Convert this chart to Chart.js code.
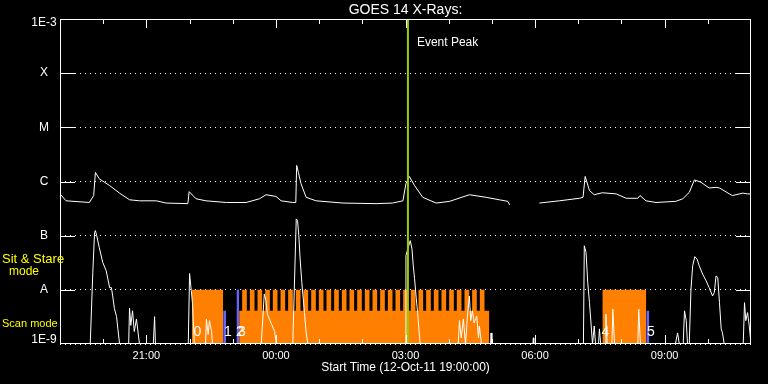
<!DOCTYPE html>
<html><head><meta charset="utf-8">
<script src="https://cdn.jsdelivr.net/npm/chart.js"></script>
<style>html,body{margin:0;padding:0;background:#000;}canvas{display:block;}</style>
</head><body>
<canvas id="c" width="768" height="384"></canvas>
<script>
// ---------- data (x in hours after 12-Oct-11 19:00) ----------
const chartTitle = 'GOES 14 X-Rays:';
const xAxisTitle = 'Start Time (12-Oct-11 19:00:00)';
const xMin = 0, xMax = 16;
const xTickHours = [2, 5, 8, 11, 14];
const xTickLabels = ['21:00', '00:00', '03:00', '06:00', '09:00'];
const xMinorTickHours = [1, 3, 4, 6, 7, 9, 10, 12, 13, 15];
const yTickValues = [1e-9, 1e-8, 1e-7, 1e-6, 1e-5, 1e-4, 1e-3];
const yTickLabels = ['1E-9', 'A', 'B', 'C', 'M', 'X', '1E-3'];

// GOES long channel (1-8 A)
const longTimes = [0.00,0.14,0.68,0.78,0.82,0.91,1.15,1.38,1.61,1.84,2.23,2.46,2.96,2.99,3.15,3.38,3.85,4.31,4.62,4.77,5.00,5.12,5.39,5.46,5.48,5.52,5.58,5.70,5.93,6.55,7.32,7.70,7.94,8.01,8.09,8.21,8.40,8.71,9.02,9.48,9.87,10.17,10.37,10.41,10.42,11.10,11.56,12.03,12.11,12.16,12.26,12.37,12.56,12.88,13.11,13.38,13.43,13.57,13.80,14.26,14.42,14.57,14.69,14.84,15.03,15.19,15.27,15.50,15.57,15.81,15.92,16.00];
const longFlux = [5.9e-7,4.4e-7,4.1e-7,5.5e-7,1.47e-6,1.12e-6,8.4e-7,6.1e-7,4.6e-7,4.4e-7,4.4e-7,4.0e-7,3.9e-7,6.5e-7,4.8e-7,4.4e-7,4.1e-7,4.1e-7,4.8e-7,5.7e-7,5.3e-7,4.4e-7,4.1e-7,4.1e-7,1.98e-6,1.47e-6,9.1e-7,5.1e-7,4.4e-7,4.0e-7,3.9e-7,4.0e-7,4.4e-7,9.1e-7,1.24e-6,8.4e-7,5.1e-7,4.0e-7,4.3e-7,5.7e-7,5.1e-7,4.6e-7,4.3e-7,3.7e-7,null,4.0e-7,4.4e-7,4.9e-7,5.1e-7,1.24e-6,6.8e-7,5.7e-7,6.2e-7,5.9e-7,4.9e-7,4.9e-7,5.5e-7,4.4e-7,4.1e-7,4.3e-7,4.8e-7,6.3e-7,1.07e-6,9.7e-7,7.6e-7,7.8e-7,7.6e-7,5.9e-7,5.5e-7,6.1e-7,5.9e-7,5.9e-7];

// GOES short channel (0.5-4 A)
const shortTimes = [0.00,0.70,0.76,0.80,0.82,0.85,0.91,0.99,1.07,1.15,1.19,1.22,1.26,1.31,1.34,1.38,1.59,1.61,1.64,1.68,1.72,1.77,1.84,2.16,2.19,2.21,2.97,3.00,3.04,3.07,3.11,3.37,3.39,3.43,3.46,3.51,3.53,4.66,4.73,4.77,4.80,4.90,4.97,5.01,5.39,5.47,5.50,5.53,5.56,5.60,5.66,5.70,5.74,7.99,8.01,8.11,8.15,8.18,8.21,8.25,8.28,8.31,8.34,9.22,9.25,9.29,9.34,9.39,9.44,9.48,9.51,9.55,9.59,9.65,9.69,9.71,9.76,9.97,9.98,10.00,10.95,10.96,10.97,12.12,12.14,12.18,12.22,12.26,12.30,12.33,12.37,12.40,12.47,12.49,12.52,12.62,12.64,12.67,12.78,12.80,12.84,13.38,13.40,13.44,14.25,14.30,14.34,14.43,14.46,14.50,14.53,14.57,14.61,14.65,14.70,14.75,14.80,14.88,14.96,15.03,15.11,15.15,15.19,15.23,15.27,15.31,15.34,15.38,15.82,15.85,15.88,15.92,15.96,16.00];
const shortFlux = [1e-9,1e-9,2.1e-8,1.15e-7,1.24e-7,1.0e-7,6.0e-8,3.2e-8,2.25e-8,1.09e-8,1.1e-8,7.7e-9,4.5e-9,3.2e-9,1.9e-9,1e-9,1e-9,4.6e-9,2.2e-9,4.1e-9,1.7e-9,2.9e-9,1e-9,1e-9,3.2e-9,1e-9,1e-9,2.0e-8,9.6e-9,5.5e-9,1e-9,1e-9,2.9e-9,1.5e-9,2.7e-9,1.7e-9,1e-9,1e-9,8.4e-9,6.3e-9,3.6e-9,2.3e-9,1.7e-9,1e-9,1e-9,2.04e-7,1.9e-7,1.0e-7,3.7e-8,1.36e-8,3.8e-9,1.6e-9,1e-9,1e-9,4.3e-8,8.1e-8,5.7e-8,2.8e-8,1.6e-8,6.8e-9,3.8e-9,1.9e-9,1e-9,1e-9,2.7e-9,1.3e-9,2.9e-9,1e-9,3.8e-9,7.7e-9,2.7e-9,4.1e-9,2.45e-9,3.3e-9,1.3e-9,2.15e-9,1e-9,1e-9,1.6e-9,1e-9,1e-9,1.3e-9,1e-9,1e-9,6.5e-8,4.9e-8,1.36e-8,5.8e-9,2.15e-9,1e-9,2.15e-9,1e-9,1e-9,1.9e-9,1e-9,1e-9,3.55e-9,1e-9,1e-9,4.4e-9,1e-9,1e-9,4.4e-9,1e-9,1e-9,1.6e-9,1e-9,1e-9,4.1e-9,2.7e-9,1e-9,1e-9,1.03e-8,2.8e-8,4.1e-8,3.7e-8,2.8e-8,1.95e-8,1.47e-8,1.1e-8,7.7e-9,8.9e-9,1.8e-8,1.7e-8,5.8e-9,1.9e-9,1.6e-9,1e-9,1e-9,5.8e-9,2.7e-9,3.8e-9,2.15e-9,1e-9];

// Observing mode blocks (level 1E-8 = sit & stare, 4.1E-9 = scan); each level holds until the next time
const orangeTimes = [3.051,3.778,3.779,4.148,4.218,4.326,4.396,4.504,4.573,4.681,4.751,4.859,4.928,5.036,5.106,5.214,5.283,5.391,5.461,5.569,5.638,5.746,5.816,5.924,5.993,6.101,6.171,6.279,6.348,6.456,6.526,6.634,6.703,6.811,6.881,6.989,7.058,7.166,7.236,7.344,7.413,7.521,7.591,7.699,7.768,7.876,7.946,8.054,8.123,8.231,8.301,8.409,8.478,8.586,8.656,8.764,8.833,8.941,9.011,9.119,9.188,9.296,9.366,9.474,9.543,9.651,9.721,9.829,9.942,9.943,12.558,13.576];
const orangeLevels = [1e-8,1e-8,null,4.1e-9,1e-8,4.1e-9,1e-8,4.1e-9,1e-8,4.1e-9,1e-8,4.1e-9,1e-8,4.1e-9,1e-8,4.1e-9,1e-8,4.1e-9,1e-8,4.1e-9,1e-8,4.1e-9,1e-8,4.1e-9,1e-8,4.1e-9,1e-8,4.1e-9,1e-8,4.1e-9,1e-8,4.1e-9,1e-8,4.1e-9,1e-8,4.1e-9,1e-8,4.1e-9,1e-8,4.1e-9,1e-8,4.1e-9,1e-8,4.1e-9,1e-8,4.1e-9,1e-8,4.1e-9,1e-8,4.1e-9,1e-8,4.1e-9,1e-8,4.1e-9,1e-8,4.1e-9,1e-8,4.1e-9,1e-8,4.1e-9,1e-8,4.1e-9,1e-8,4.1e-9,1e-8,4.1e-9,1e-8,4.1e-9,4.1e-9,null,1e-8,1e-8];
const blueTimes = [3.778,3.847,3.848,4.086,4.148,4.149,13.576,13.646];
const blueLevels = [4.1e-9,4.1e-9,null,1e-8,1e-8,null,4.1e-9,4.1e-9];

const modeLabelTexts = ['0', '1', '2', '3', '4', '5'];
const modeLabelHours = [3.183, 3.889, 4.167, 4.213, 12.627, 13.68];
const modeLabelLevel = 1.63e-9;

const eventPeakHour = 8.056;
const eventLabel = 'Event Peak';
const eventLabelLevel = 3.6e-4;
const sitStareLabelLevel = 3.6e-8;
const sitStareModeLevel = 2.15e-8;
const scanLabelLevel = 2.35e-9;

// ---------- chart ----------
const pts = (t, v) => t.map((x, i) => ({x, y: v[i]}));
Chart.defaults.font.family = 'Liberation Sans';
const endLabels = {0: 1, 6: 1};

const overlay = {
  id: 'overlay',
  afterDraw(chart) {
    const {ctx, chartArea: a, scales: {x, y}} = chart;
    const line = (x1, y1, x2, y2) => { ctx.beginPath(); ctx.moveTo(x1, y1); ctx.lineTo(x2, y2); ctx.stroke(); };
    const txt = (s, px, py, color, font, align) => {
      ctx.fillStyle = color; ctx.font = font; ctx.textAlign = align; ctx.textBaseline = 'middle'; ctx.fillText(s, px, py);
    };
    ctx.save();
    ctx.strokeStyle = '#fff'; ctx.lineWidth = 1; ctx.setLineDash([]);
    ctx.strokeRect(a.left + 0.5, a.top + 0.5, a.right - a.left - 1, a.bottom - a.top - 1);
    yTickValues.slice(1, -1).forEach(v => {
      const py = Math.round(y.getPixelForValue(v)) + 0.5;
      line(a.left, py, a.left + 15, py);
      line(a.right - 15, py, a.right, py);
    });
    xTickHours.forEach(h => {
      const px = Math.round(x.getPixelForValue(h)) + 0.5;
      line(px, a.top, px, a.top + 9); line(px, a.bottom, px, a.bottom - 9);
    });
    xMinorTickHours.forEach(h => {
      const px = Math.round(x.getPixelForValue(h)) + 0.5;
      line(px, a.top, px, a.top + 5); line(px, a.bottom, px, a.bottom - 5);
    });
    txt(yTickLabels[6], a.left - 16, y.getPixelForValue(yTickValues[6]) + 4, '#fff', '12px "Liberation Sans"', 'center');
    txt(yTickLabels[0], a.left - 16, y.getPixelForValue(yTickValues[0]) - 4, '#fff', '12px "Liberation Sans"', 'center');
    txt(chartTitle, (a.left + a.right) / 2, 10, '#fff', '14px "Liberation Sans"', 'center');
    txt(eventLabel, x.getPixelForValue(eventPeakHour) + 9, y.getPixelForValue(eventLabelLevel), '#fff', '12px "Liberation Sans"', 'left');
    modeLabelTexts.forEach((s, i) => {
      txt(s, x.getPixelForValue(modeLabelHours[i]), y.getPixelForValue(modeLabelLevel), '#fff', '14px "Liberation Sans"', 'center');
    });
    txt('Sit & Stare', 2, y.getPixelForValue(sitStareLabelLevel), '#ffff00', '13px "Liberation Sans"', 'left');
    txt('mode', 24, y.getPixelForValue(sitStareModeLevel), '#ffff00', '12px "Liberation Sans"', 'center');
    txt('Scan mode', 2, y.getPixelForValue(scanLabelLevel), '#ffff00', '11px "Liberation Sans"', 'left');
    ctx.restore();
  }
};

new Chart(document.getElementById('c'), {
  type: 'line',
  data: {
    datasets: [
      {data: [{x: eventPeakHour, y: 1e-9}, {x: eventPeakHour, y: 1e-3}], borderColor: '#9acd00', borderWidth: 2, order: 0},
      {data: pts(longTimes, longFlux), borderColor: '#ffffff', borderWidth: 1, order: 1},
      {data: pts(shortTimes, shortFlux), borderColor: '#ffffff', borderWidth: 1, order: 2},
      {data: pts(blueTimes, blueLevels), stepped: 'before', fill: 'start', backgroundColor: '#6464ff', borderColor: 'rgba(0,0,0,0)', borderWidth: 1, order: 3},
      {data: pts(orangeTimes, orangeLevels), stepped: 'before', fill: 'start', backgroundColor: '#ff8000', borderColor: 'rgba(0,0,0,0)', borderWidth: 1, order: 4}
    ]
  },
  options: {
    responsive: false,
    animation: false,
    spanGaps: false,
    elements: {point: {radius: 0}, line: {tension: 0}},
    layout: {padding: {left: 0, right: 17, top: 19, bottom: 0}},
    plugins: {legend: {display: false}, tooltip: {enabled: false}, title: {display: false}},
    scales: {
      x: {
        type: 'linear', min: xMin, max: xMax,
        afterFit(s) { s.height = 40; },
        afterBuildTicks(s) { s.ticks = xTickHours.map(v => ({value: v})); },
        grid: {display: false, drawTicks: false},
        border: {display: false},
        ticks: {color: '#fff', font: {size: 11}, padding: 5, maxRotation: 0, autoSkip: false,
                callback: (v, i) => xTickLabels[i]},
        title: {display: true, text: xAxisTitle, color: '#fff', font: {size: 12}, padding: {top: 0, bottom: 9}}
      },
      y: {
        type: 'logarithmic', min: 1e-9, max: 1e-3,
        afterFit(s) { s.width = 60; },
        afterBuildTicks(s) { s.ticks = yTickValues.map(v => ({value: v})); },
        grid: {color: '#fff', lineWidth: 1, drawTicks: false},
        border: {display: false, dash: [1, 4]},
        ticks: {color: '#fff', font: {size: 12}, padding: 11, crossAlign: 'center', autoSkip: false,
                callback: (v, i) => (endLabels[i] ? '' : yTickLabels[i])}
      }
    }
  },
  plugins: [overlay]
});
</script>
</body></html>
